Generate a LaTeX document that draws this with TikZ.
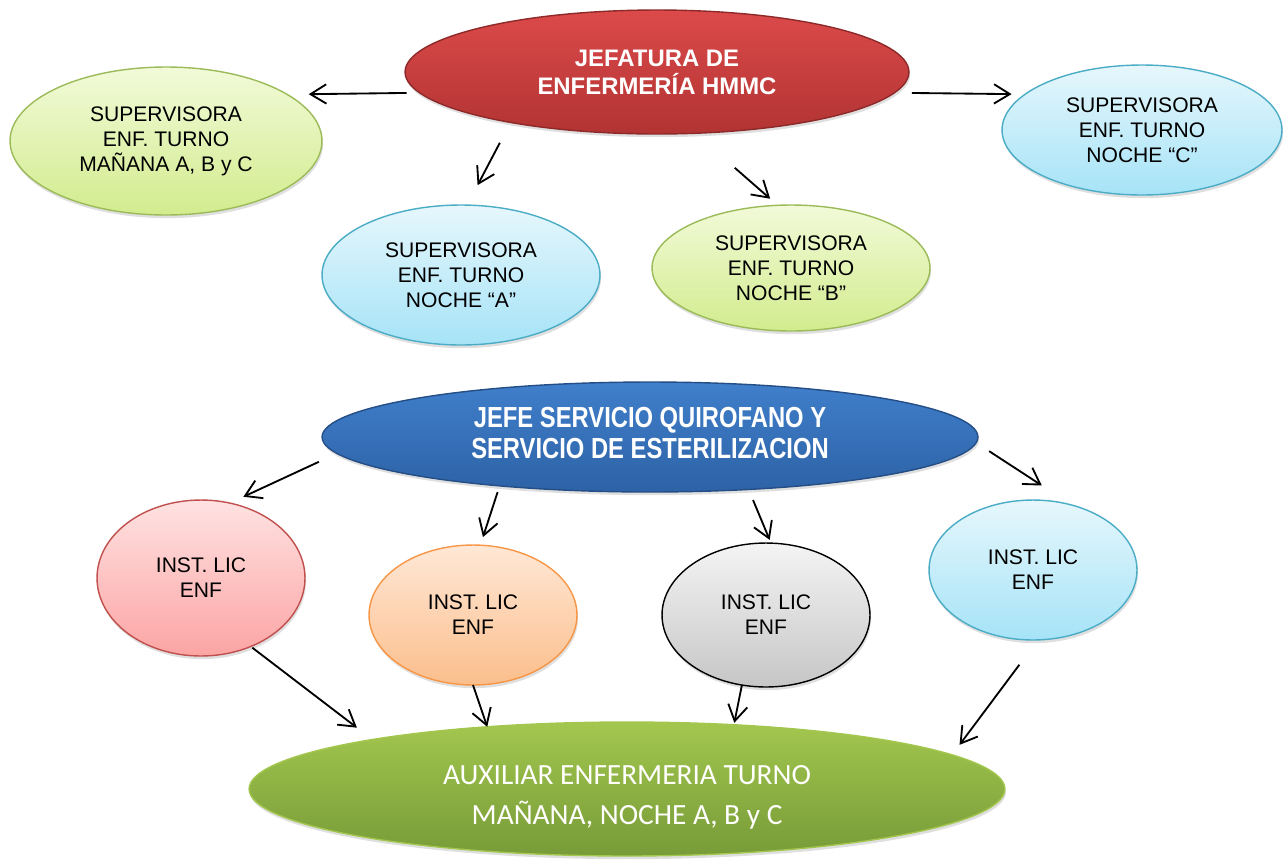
\documentclass[tikz,border=0pt]{standalone}
\usepackage{fontspec}
\setmainfont{Liberation Sans}
\newfontfamily\narrowfont{Liberation Sans}[FakeStretch=0.82]
\newfontfamily\calibrifont{Carlito}
\usetikzlibrary{shapes.geometric, shadows, arrows.meta}

\definecolor{grnline}{HTML}{9BBB59}
\definecolor{grntop}{HTML}{F2FAD8}
\definecolor{grnbot}{HTML}{D2EC8E}
\definecolor{bluline}{HTML}{4BACC6}
\definecolor{blutop}{HTML}{E6F7FC}
\definecolor{blubot}{HTML}{A6E3F7}
\definecolor{redline}{HTML}{C0504D}
\definecolor{redtop}{HTML}{FFE2E2}
\definecolor{redbot}{HTML}{FCA4A4}
\definecolor{orgline}{HTML}{F79646}
\definecolor{orgtop}{HTML}{FFE8D6}
\definecolor{orgbot}{HTML}{FBBE8C}
\definecolor{grytop}{HTML}{F4F4F4}
\definecolor{grybot}{HTML}{C6C6C6}
\definecolor{jeftop}{HTML}{DC4A4A}
\definecolor{jefbot}{HTML}{B23333}
\definecolor{quitop}{HTML}{407FCB}
\definecolor{quibot}{HTML}{2D62A6}
\definecolor{auxtop}{HTML}{A3C74E}
\definecolor{auxbot}{HTML}{779B38}

\begin{document}
\begin{tikzpicture}[x=0.02cm, y=-0.02cm,
  box/.style={ellipse, inner sep=0pt, outer sep=0pt, align=center,
    font=\fontsize{12}{14.2}\selectfont, line width=0.8pt,
    drop shadow={opacity=0.25, shadow xshift=0.6pt, shadow yshift=-1.8pt}},
  lgreen/.style={box, draw=grnline, top color=grntop, bottom color=grnbot},
  lblue/.style={box, draw=bluline, top color=blutop, bottom color=blubot},
  lred/.style={box, draw=redline, top color=redtop, bottom color=redbot},
  lorange/.style={box, draw=orgline, top color=orgtop, bottom color=orgbot},
  lgray/.style={box, draw=black, top color=grytop, bottom color=grybot},
  arr/.style={-{Straight Barb[length=9pt,width=11pt]}, line width=1.05pt}]

  \useasboundingbox (0,0) rectangle (1284,863);

  % Jefatura and supervisoras
  \node[box, draw=jefbot!80!black, top color=jeftop, bottom color=jefbot,
    text=white, font=\fontsize{13.6}{16}\selectfont\bfseries,
    minimum width=10.08cm, minimum height=2.48cm] (jef) at (657,72)
    {JEFATURA DE\\ENFERMERÍA HMMC};
  \node[lgreen, minimum width=6.24cm, minimum height=2.96cm] (supMan) at (166,141)
    {SUPERVISORA\\ENF. TURNO\\MAÑANA A, B y C};
  \node[lblue, minimum width=5.6cm, minimum height=2.6cm] (supC) at (1142,130)
    {SUPERVISORA\\ENF. TURNO\\NOCHE “C”};
  \node[lblue, minimum width=5.56cm, minimum height=2.8cm] (supA) at (461,275)
    {SUPERVISORA\\ENF. TURNO\\NOCHE “A”};
  \node[lgreen, minimum width=5.56cm, minimum height=2.52cm] (supB) at (791,268)
    {SUPERVISORA\\ENF. TURNO\\NOCHE “B”};

  % Quirofano
  \node[box, draw=quibot!80!black, top color=quitop, bottom color=quibot,
    text=white, font=\fontsize{16.5}{17.6}\selectfont\narrowfont\bfseries,
    minimum width=13.12cm, minimum height=2.2cm] (jefe) at (650,437)
    {JEFE SERVICIO QUIROFANO Y\\SERVICIO DE ESTERILIZACION\\[-0.46cm]};
  \node[lred, minimum width=4.16cm, minimum height=3.12cm] (inst1) at (201,578) {INST. LIC\\ENF};
  \node[lorange, minimum width=4.16cm, minimum height=2.8cm] (inst2) at (473,615) {INST. LIC\\ENF};
  \node[lgray, minimum width=4.16cm, minimum height=2.88cm] (inst3) at (766,615) {INST. LIC\\ENF};
  \node[lblue, minimum width=4.16cm, minimum height=2.8cm] (inst4) at (1033,570) {INST. LIC\\ENF};

  % Auxiliar
  \node[box, draw=auxtop, top color=auxtop, bottom color=auxbot,
    text=white, font=\fontsize{16.7}{22.7}\selectfont\calibrifont,
    minimum width=15.12cm, minimum height=2.68cm] (aux) at (627,789)
    {\\[-0.1cm]AUXILIAR ENFERMERIA TURNO\\MAÑANA, NOCHE A, B y C};

  % Arrows
  \draw[arr, shorten <=0.26cm, shorten >=0.43cm] (jef.185) -- (supMan.21);
  \draw[arr, shorten <=0.35cm, shorten >=0.27cm] (jef.355) -- (supC.163);
  \draw[arr, shorten <=0.46cm, shorten >=0.45cm] (jef.199) -- (supA.85);
  \draw[arr, shorten <=1.05cm, shorten >=0.2cm] (jef.302) -- (supB.102);

  \draw[arr, shorten <=0.40cm, shorten >=0.30cm] (jefe.183) -- (inst1.69);
  \draw[arr, shorten <=0.13cm, shorten >=0.17cm] (jefe.198) -- (inst2.84);
  \draw[arr, shorten <=0.23cm, shorten >=0.07cm] (jefe.332) -- (inst3.86);
  \draw[arr, shorten <=0.31cm, shorten >=0.72cm] (jefe.359) -- (inst4.59);

  \draw[arr, shorten <=0.04cm, shorten >=0.39cm] (inst1.306) -- (aux.169);
  \draw[arr] (inst2.270) -- (aux.156);
  \draw[arr, shorten >=0.04cm] (inst3.251) -- (aux.31);
  \draw[arr, shorten <=0.62cm, shorten >=0.25cm] (inst4.274) -- (aux.6);
\end{tikzpicture}
\end{document}
